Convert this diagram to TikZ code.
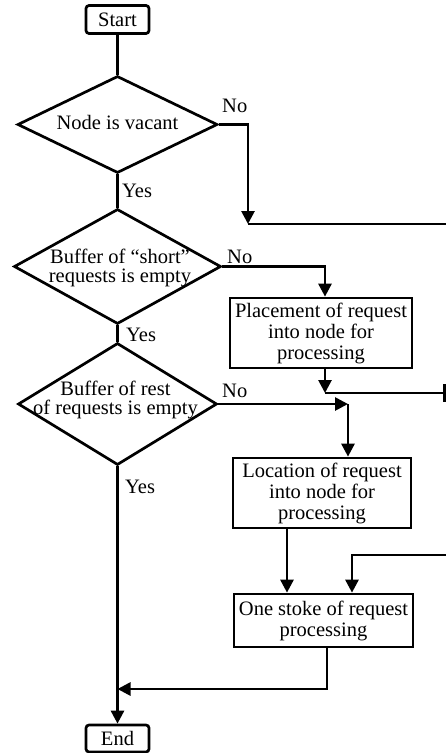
\documentclass[tikz,border=0pt]{standalone}
\usepackage{fontspec}
\setmainfont{Liberation Serif}
\usetikzlibrary{arrows.meta,shapes.geometric}
\tikzset{
  ln/.style={line width=2.7pt},
  arr/.style={ln, -{Triangle[length=13pt,width=13pt]}},
  txt/.style={font=\fontsize{20.5}{21}\selectfont, inner sep=0pt},
  dtxt/.style={font=\fontsize{20.5}{19.5}\selectfont, align=center, inner sep=0pt},
  dia/.style={draw, ln, shape=diamond, inner sep=0pt},
  procbox/.style={draw, ln, font=\fontsize{20.5}{21}\selectfont, align=center, inner sep=1pt},
  termbox/.style={draw, ln, rounded corners=3pt, font=\fontsize{20.5}{21}\selectfont, inner sep=0pt, minimum width=63pt, minimum height=28pt},
}
\begin{document}
\begin{tikzpicture}[x=1pt,y=-1pt]
\useasboundingbox (0,0) rectangle (446,753);
% nodes
\node[termbox] (start) at (117.5,19.5) {Start};
\node[dia, minimum width=200pt, minimum height=97pt] (d1) at (117.5,124.5) {};
\node[txt, anchor=base] (t1) at (117.5,129) {Node is vacant};
\node[dia, minimum width=207pt, minimum height=115pt] (d2) at (117.5,266.5) {};
\node[dtxt] (t2) at (120,268) {Buffer of “short”\\requests is empty};
\node[dia, minimum width=199pt, minimum height=122pt] (d3) at (117.5,404) {};
\node[dtxt] (t3) at (115.5,400) {Buffer of rest\\of requests is empty};
\node[procbox, minimum width=182pt, minimum height=70pt] (p) at (321,333) {Placement of request\\into node for\\processing};
\node[procbox, minimum width=178pt, minimum height=70pt] (l) at (322,493) {Location of request\\into node for\\processing};
\node[procbox, minimum width=179pt, minimum height=53pt] (o) at (323.5,620.5) {One stoke of request\\processing};
\node[termbox, minimum height=27pt] (end) at (117.5,738.5) {End};
% labels
\node[txt, anchor=base west] (y1) at (122,197) {Yes};
\node[txt, anchor=base west] (n1) at (222,112) {No};
\node[txt, anchor=base west] (y2) at (126,341) {Yes};
\node[txt, anchor=base west] (n2) at (227,263) {No};
\node[txt, anchor=base west] (n3) at (222,397) {No};
\node[txt, anchor=base west] (y3) at (125,493) {Yes};
% helper coordinates
\coordinate (j1) at (248,224);
\coordinate (e1) at (446,224);
\coordinate (px) at (325,0);
\coordinate (j2) at (325,393);
\coordinate (e2) at (446,393);
\coordinate (j3) at (348,404);
\coordinate (lx) at (287,0);
\coordinate (e3) at (446,555);
\coordinate (ox) at (352,0);
\coordinate (oy) at (327,0);
\coordinate (j4) at (117.5,689);
% connectors
\draw[ln] (start) -- (d1.north);
\draw[arr] (d1.east) -| (j1);
\draw[ln] (j1) -- (e1);
\draw[ln] (d1.south) -- (d2.north);
\draw[arr] (d2.east) -| (px |- p.north);
\draw[arr] (px |- p.south) -- (j2);
\draw[ln, -{Bar[width=18pt]}] (j2) -- (e2);
\draw[ln] (d2.south) -- (d3.north);
\draw[arr] (d3.east) -- (j3);
\draw[arr] (j3) -- (j3 |- l.north);
\draw[arr] (lx |- l.south) -- (lx |- o.north);
\draw[arr] (e3) -| (ox |- o.north);
\draw[arr] (oy |- o.south) |- (j4);
\draw[arr] (d3.south) -- (end.north);
\end{tikzpicture}
\end{document}
